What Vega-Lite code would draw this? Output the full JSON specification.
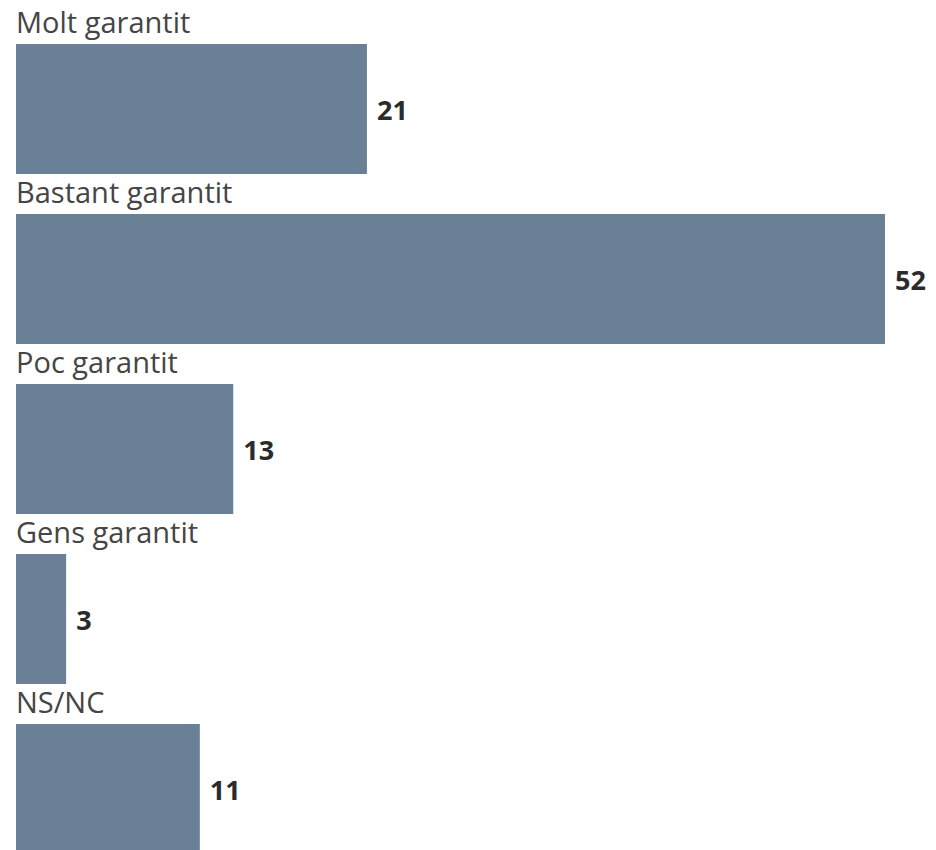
{
  "$schema": "https://vega.github.io/schema/vega-lite/v6.json",
  "width": 936,
  "height": 850,
  "padding": 0,
  "autosize": {"type": "none"},
  "background": "white",
  "config": {"view": {"stroke": null}},
  "data": {"values": [
    {"cat": "Molt garantit", "value": 21},
    {"cat": "Bastant garantit", "value": 52},
    {"cat": "Poc garantit", "value": 13},
    {"cat": "Gens garantit", "value": 3},
    {"cat": "NS/NC", "value": 11}
  ]},
  "encoding": {
    "y": {"field": "cat", "type": "nominal", "sort": null, "axis": null,
      "scale": {"range": [44, 854], "paddingInner": 0.2353, "paddingOuter": 0}},
    "x": {"field": "value", "type": "quantitative", "axis": null,
      "scale": {"domain": [0, 52], "range": [16, 885], "nice": false, "zero": true}}
  },
  "layer": [
    {"mark": {"type": "bar", "color": "#6a8096"}},
    {"mark": {"type": "text", "align": "left", "baseline": "middle", "dx": 10, "dy": 3,
      "font": "Open Sans", "fontWeight": "bold", "fontSize": 27, "color": "#2b2b2b"},
     "encoding": {"text": {"field": "value", "type": "quantitative"}}},
    {"mark": {"type": "text", "align": "left", "baseline": "alphabetic", "dy": -76,
      "font": "Open Sans", "fontSize": 29, "color": "#454545"},
     "encoding": {"x": {"datum": 0}, "text": {"field": "cat"}}}
  ]
}
